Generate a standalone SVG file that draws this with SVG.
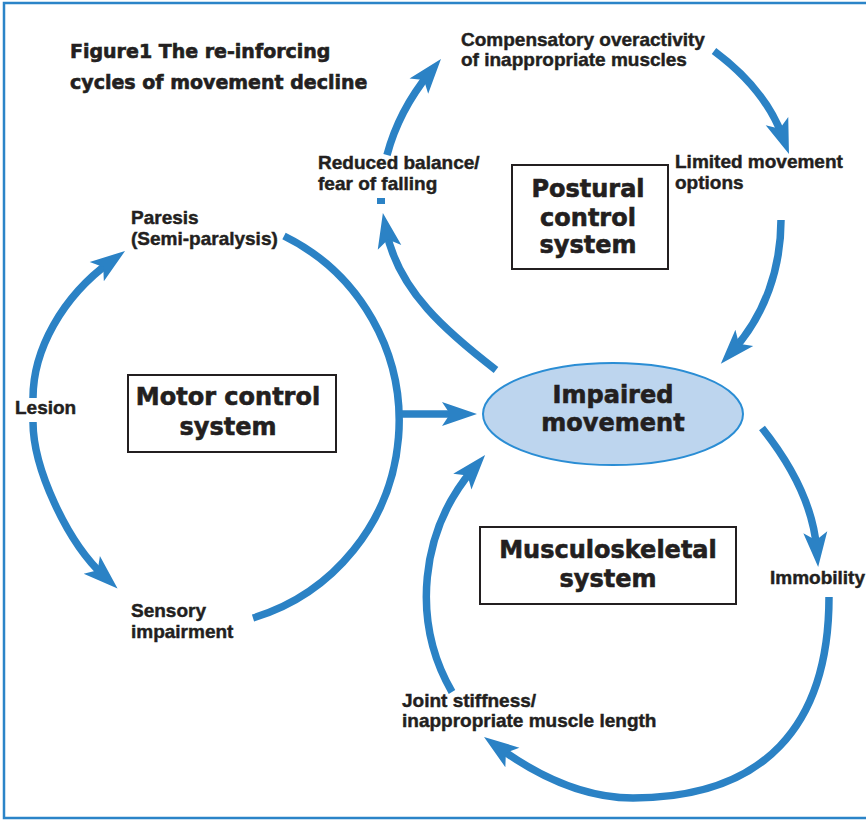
<svg xmlns="http://www.w3.org/2000/svg" width="866" height="820" viewBox="0 0 866 820">
<style>
.lbl{font-family:"Liberation Sans",Arial,sans-serif;font-weight:bold;font-size:19px;fill:#231f20;stroke:#231f20;stroke-width:0.45}
.hvy{font-family:"DejaVu Sans",sans-serif;font-weight:bold;fill:#231f20;stroke:#231f20;stroke-width:0.6}
.box{fill:#fff;stroke:#231f20;stroke-width:2}
.arc{fill:none;stroke:#2b82c5;stroke-width:7.5}
</style>
<defs>
<marker id="ah" markerUnits="userSpaceOnUse" viewBox="-40 -15 45 30" markerWidth="45" markerHeight="30" refX="-18" refY="0" orient="auto" overflow="visible">
<path d="M0,0 L-35,-12 L-27,0 L-35,12 Z" fill="#2b82c5"/>
</marker>
</defs>
<rect x="4" y="3" width="880" height="815" fill="#fff" stroke="#2b84c8" stroke-width="2.5"/>
<g id="title">
<text class="hvy" x="70" y="58" font-size="19">Figure1 The re-inforcing</text>
<text class="hvy" x="70" y="89" font-size="19">cycles of movement decline</text>
</g>
<g id="connectors">
<path class="arc" d="M33,398 C33,350 62,297 110.5,261.6" marker-end="url(#ah)"/>
<path class="arc" d="M33,422 C33,468 67,542 104.3,576.3" marker-end="url(#ah)"/>
<path class="arc" d="M284,236 A206,206 0 0 1 253,618"/>
<path class="arc" d="M400,414 H459" stroke-width="6.5" marker-end="url(#ah)"/>
<path class="arc" d="M496,370 C448,333 398,291 386.3,230.7" marker-end="url(#ah)"/>
<path class="arc" d="M387,155 C395,125 410,97 429.6,72.9" marker-end="url(#ah)"/>
<path class="arc" d="M714,51 C745,74 770,102 782.8,137.1" marker-end="url(#ah)"/>
<path class="arc" d="M781,220 C781,268 765,315 732.9,350.5" marker-end="url(#ah)"/>
<path class="arc" d="M762,428 C790,463 813,504 816.7,549.1" marker-end="url(#ah)"/>
<path class="arc" d="M829,597 C829,727 763,798 633,798 C584,798 538,776 498.6,747.5" marker-end="url(#ah)"/>
<path class="arc" d="M452,692 C411,621 420,531 473.4,468.7" marker-end="url(#ah)"/>
<rect x="377" y="198" width="8" height="6" fill="#2b82c5"/>
</g>
<g id="impaired">
<ellipse cx="613" cy="414" rx="130" ry="51" fill="#bdd5ee" stroke="#2a8dd4" stroke-width="2"/>
<text class="hvy" x="613" y="403" font-size="24" text-anchor="middle">Impaired</text>
<text class="hvy" x="613" y="431" font-size="24" text-anchor="middle">movement</text>
</g>
<g id="motor">
<rect class="box" x="128" y="375" width="208" height="77"/>
<text class="hvy" x="228" y="405" font-size="24" text-anchor="middle">Motor control</text>
<text class="hvy" x="228" y="435" font-size="24" text-anchor="middle">system</text>
</g>
<g id="postural">
<rect class="box" x="512" y="165" width="156" height="104"/>
<text class="hvy" x="588" y="197" font-size="24" text-anchor="middle">Postural</text>
<text class="hvy" x="588" y="226" font-size="24" text-anchor="middle">control</text>
<text class="hvy" x="588" y="253" font-size="24" text-anchor="middle">system</text>
</g>
<g id="musculo">
<rect class="box" x="480" y="527" width="256" height="77"/>
<text class="hvy" x="608" y="558" font-size="24" text-anchor="middle">Musculoskeletal</text>
<text class="hvy" x="608" y="587" font-size="24" text-anchor="middle">system</text>
</g>
<g id="compensatory"><text class="lbl" x="461" y="46">Compensatory overactivity</text><text class="lbl" x="461" y="66">of inappropriate muscles</text></g>
<g id="reduced"><text class="lbl" x="318" y="169">Reduced balance/</text><text class="lbl" x="318" y="190">fear of falling</text></g>
<g id="limited"><text class="lbl" x="675" y="168">Limited movement</text><text class="lbl" x="675" y="189">options</text></g>
<g id="paresis"><text class="lbl" x="131" y="224">Paresis</text><text class="lbl" x="131" y="245">(Semi-paralysis)</text></g>
<g id="lesion"><text class="lbl" x="15" y="414">Lesion</text></g>
<g id="sensory"><text class="lbl" x="131" y="617">Sensory</text><text class="lbl" x="131" y="638">impairment</text></g>
<g id="immobility"><text class="lbl" x="770" y="584">Immobility</text></g>
<g id="joint"><text class="lbl" x="402" y="707">Joint stiffness/</text><text class="lbl" x="402" y="727">inappropriate muscle length</text></g>
</svg>
